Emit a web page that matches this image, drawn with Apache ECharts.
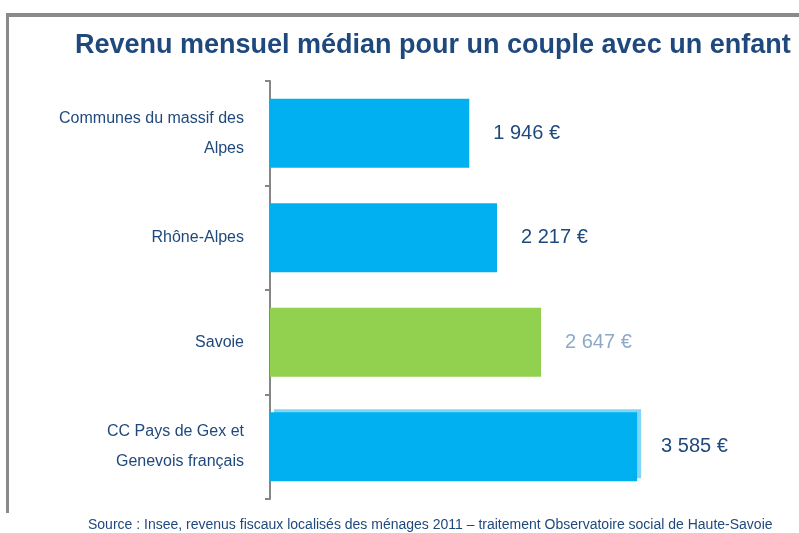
<!DOCTYPE html>
<html>
<head>
<meta charset="utf-8">
<style>
  html, body { margin: 0; padding: 0; background: #ffffff; }
  #chart { width: 799px; height: 533px; }
</style>
<script src="https://cdn.jsdelivr.net/npm/echarts@6/dist/echarts.min.js"></script>
</head>
<body>
<div id="chart"></div>
<script>
// Territories compared (top to bottom)
const categories = [
  'Communes du massif des\nAlpes',
  'Rhône-Alpes',
  'Savoie',
  'CC Pays de Gex et\nGenevois français'
];
// Median monthly income, couple with one child (€)
const incomes = [1946, 2217, 2647, 3585];
// Highlighted territory (green bar)
const highlightIndex = 2;

const titleText = 'Revenu mensuel médian pour un couple avec un enfant';
const sourceText = 'Source : Insee, revenus fiscaux localisés des ménages 2011 – traitement Observatoire social de Haute-Savoie';

const navy = '#1f497d';
const blue = '#00b0f0';
const green = '#92d050';

function fmtEuro(v) {
  return String(v).replace(/\B(?=(\d{3})+(?!\d))/g, ' ') + ' €';
}

const barData = incomes.map((v, i) => {
  const item = { value: v };
  if (i === highlightIndex) {
    item.itemStyle = { color: green };
    item.label = { color: '#8ea9c8' };
  }
  if (i === incomes.length - 1) {
    item.itemStyle = {
      color: blue,
      shadowColor: '#7fd6f7',
      shadowOffsetX: 4,
      shadowOffsetY: -3,
      shadowBlur: 0
    };
  }
  return item;
});

const chart = echarts.init(document.getElementById('chart'), null, { renderer: 'canvas' });

chart.setOption({
  animation: false,
  backgroundColor: '#ffffff',
  title: {
    text: titleText,
    left: 70,
    top: 27,
    textStyle: {
      fontFamily: 'Liberation Sans, Arial, sans-serif',
      fontWeight: 'bold',
      fontSize: 27,
      color: navy
    }
  },
  graphic: [
    { type: 'rect', shape: { x: 6, y: 13, width: 793, height: 4 }, style: { fill: '#8a8a8a' } },
    { type: 'rect', shape: { x: 6, y: 13, width: 3, height: 500 }, style: { fill: '#8a8a8a' } },
    {
      type: 'text',
      left: 88,
      top: 518,
      style: {
        text: sourceText,
        font: '14px "Liberation Sans", Arial, sans-serif',
        fill: navy
      }
    }
  ],
  grid: {
    left: 270,
    top: 81,
    width: 512,
    height: 418
  },
  xAxis: {
    type: 'value',
    min: 0,
    max: 5000,
    show: false
  },
  yAxis: {
    type: 'category',
    inverse: true,
    data: categories,
    axisLine: { show: true, lineStyle: { color: '#868686', width: 2 } },
    axisTick: { show: true, length: 5, lineStyle: { color: '#868686', width: 2 } },
    axisLabel: {
      margin: 26,
      fontFamily: 'Liberation Sans, Arial, sans-serif',
      fontSize: 16,
      lineHeight: 30,
      color: navy,
      align: 'right'
    },
    splitLine: { show: false }
  },
  series: [{
    type: 'bar',
    data: barData,
    barWidth: 69,
    itemStyle: { color: blue },
    label: {
      show: true,
      position: 'right',
      distance: 24,
      fontFamily: 'Liberation Sans, Arial, sans-serif',
      fontSize: 20,
      color: navy,
      formatter: p => fmtEuro(p.value)
    }
  }]
});
</script>
</body>
</html>
